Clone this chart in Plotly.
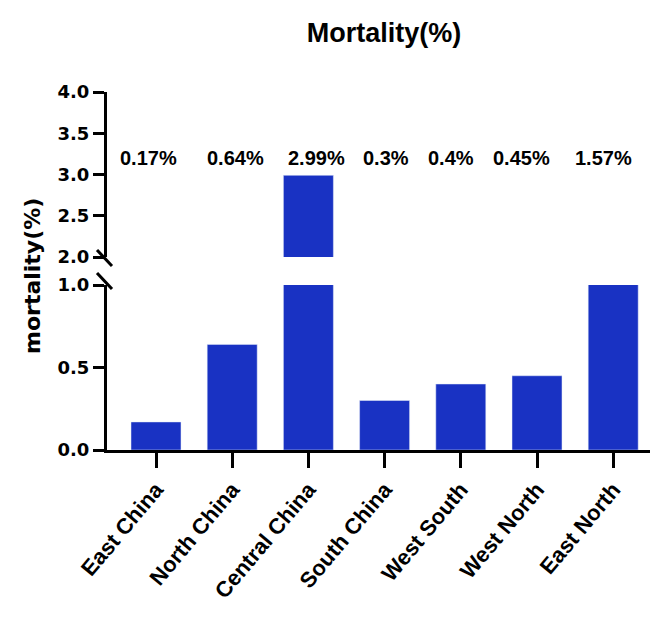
import plotly.graph_objects as go

regions = ["East China", "North China", "Central China", "South China",
           "West South", "West North", "East North"]
mortality = [0.17, 0.64, 2.99, 0.3, 0.4, 0.45, 1.57]
lower_ticks = [0.0, 0.5, 1.0]
upper_ticks = [2.0, 2.5, 3.0, 3.5, 4.0]

# horizontal nudges (px) of the value labels, as placed in the original
label_shift = [-8, 3, 8, 1, -10, -16, -10]

BAR = "#1932C3"
TICKFONT = "DejaVu Sans, sans-serif"
SANS = "Liberation Sans, Arial, sans-serif"

OFF = 8  # page body margin
W, H = 642, 601
L = 107 - OFF
T = 92 - OFF
plot_right = 650 - OFF
R = W - plot_right
y0_page = 450
B = H - (y0_page - OFF)
ph = H - T - B
pw = W - L - R


def px(xp):
    return (xp - 107) / pw


def py(yp):
    return (y0_page - yp) / ph


low_dom = [0, py(285)]
up_dom = [py(257), 1]

fig = go.Figure()
fig.add_trace(go.Bar(x=regions, y=mortality, marker_color=BAR, width=0.656,
                     xaxis="x", yaxis="y", showlegend=False))
fig.add_trace(go.Bar(x=regions, y=mortality, marker_color=BAR, width=0.656,
                     xaxis="x", yaxis="y2", showlegend=False))

yfont = dict(family=TICKFONT, size=18, color="black", weight="bold")
xfont = dict(family=SANS, size=22, color="black", weight="bold")
common_y = dict(showline=True, linewidth=3, linecolor="black", ticks="outside",
                ticklen=11, tickwidth=2.5, tickcolor="black", tickfont=yfont,
                showgrid=False, zeroline=False, anchor="x", tickformat=".1f",
                automargin=False)
fig.update_layout(
    width=W, height=H,
    margin=dict(l=L, r=R, t=T, b=B, pad=0),
    plot_bgcolor="white", paper_bgcolor="white",
    xaxis=dict(range=[-0.643, 6.483], showline=True, linewidth=3, linecolor="black",
               ticks="outside", ticklen=15, tickwidth=2.5, tickcolor="black",
               tickangle=-50, tickfont=xfont, anchor="y", showgrid=False,
               zeroline=False, automargin=False),
    yaxis=dict(domain=low_dom, range=[0, 1.0], tickvals=lower_ticks, **common_y),
    yaxis2=dict(domain=up_dom, range=[2.0, 4.0], tickvals=upper_ticks, **common_y),
    title=dict(text="Mortality(%)", x=(384 - OFF) / W, xanchor="center", xref="container",
               y=1 - (33 - OFF) / H, yanchor="middle", automargin=False,
               font=dict(family=SANS, size=27, color="black", weight="bold")),
)

# value labels
for r, v, s in zip(regions, mortality, label_shift):
    fig.add_annotation(x=r, y=py(158), xref="x", yref="paper", text=f"{v}%",
                       showarrow=False, yanchor="middle", xshift=s,
                       font=dict(family=SANS, size=20, color="black", weight="bold"))

# y title
fig.add_annotation(x=px(32), y=py(276), xref="paper", yref="paper",
                   text="mortality(%)", textangle=-90, showarrow=False,
                   xanchor="center", yanchor="middle",
                   font=dict(family=TICKFONT, size=22, color="black", weight="bold"))

# axis break marks
for (ax, ay, bx, by) in [(97, 250, 112, 266), (97, 273, 112, 289)]:
    fig.add_shape(type="line", xref="paper", yref="paper",
                  x0=px(ax), y0=py(ay), x1=px(bx), y1=py(by),
                  line=dict(color="black", width=3))

fig.write_html("out.html")
